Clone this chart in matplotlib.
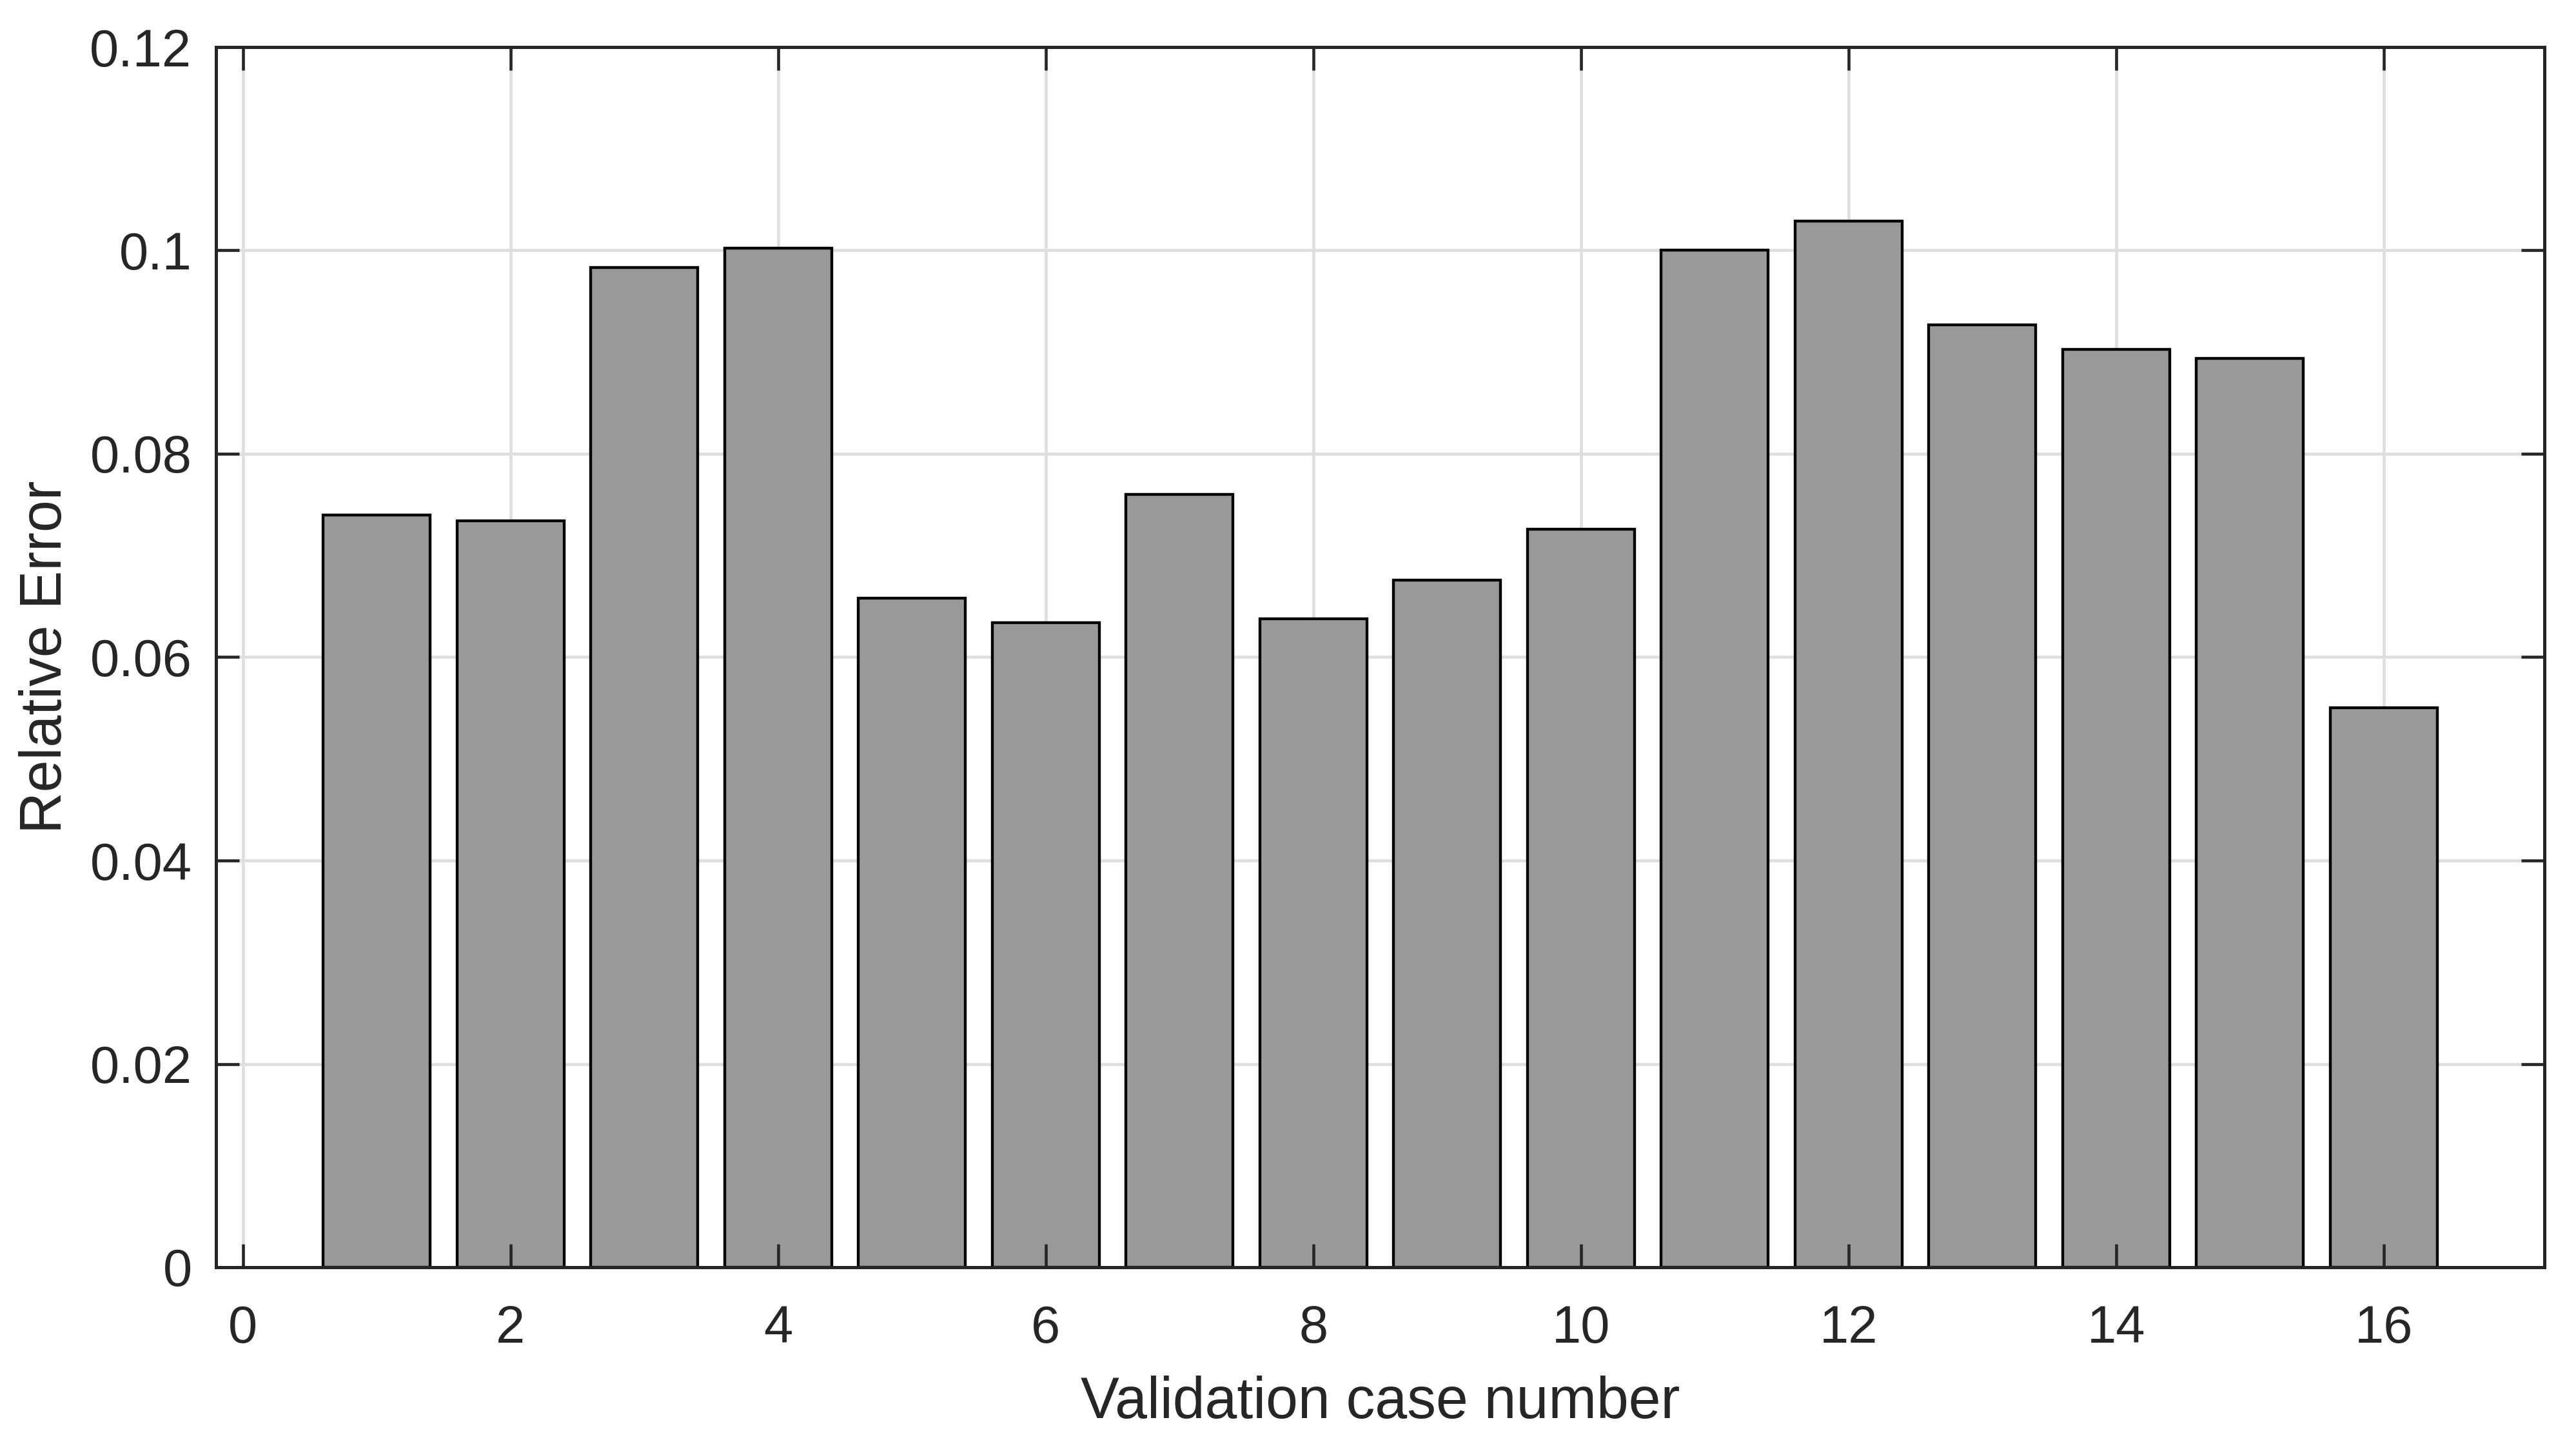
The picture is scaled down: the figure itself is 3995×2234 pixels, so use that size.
import matplotlib
matplotlib.use('Agg')
import matplotlib.pyplot as plt

# ---- data ----
cases = list(range(1, 17))
rel_error = [0.0740, 0.0734, 0.0983, 0.1002, 0.0658, 0.0634, 0.0760, 0.0638,
             0.0676, 0.0726, 0.1000, 0.1029, 0.0927, 0.0903, 0.0894, 0.0550]
xticks = [0, 2, 4, 6, 8, 10, 12, 14, 16]
xtick_labels = ['0', '2', '4', '6', '8', '10', '12', '14', '16']
yticks = [0, 0.02, 0.04, 0.06, 0.08, 0.10, 0.12]
ytick_labels = ['0', '0.02', '0.04', '0.06', '0.08', '0.1', '0.12']
xlabel = 'Validation case number'
ylabel = 'Relative Error'

plt.rcParams['font.family'] = ['Liberation Sans', 'DejaVu Sans']
txt = '#262626'

fig = plt.figure(figsize=(3995 / 300, 2234 / 300), dpi=300)
pos = [335 / 3995, 1 - 1966 / 2234, (3946 - 335) / 3995, (1966 - 73) / 2234]

# base axes: grid + bars
ax = fig.add_axes(pos)
ax.bar(cases, rel_error, width=0.8, color='#999999', edgecolor='black',
       linewidth=1.05, zorder=2)
ax.set_xlim(-0.2, 17.2)
ax.set_ylim(0, 0.12)
ax.set_xticks(xticks)
ax.set_yticks(yticks)
ax.grid(True, color='#dedede', linewidth=1.1)
ax.set_axisbelow(True)
ax.tick_params(length=0, labelbottom=False, labelleft=False)
for s in ax.spines.values():
    s.set_visible(False)

# overlay axes: ticks, spines, labels
ax2 = fig.add_axes(pos)
ax2.patch.set_visible(False)
ax2.set_xlim(-0.2, 17.2)
ax2.set_ylim(0, 0.12)
ax2.set_xticks(xticks)
ax2.set_xticklabels(xtick_labels)
ax2.set_yticks(yticks)
ax2.set_yticklabels(ytick_labels)
ax2.tick_params(direction='in', top=True, right=True, length=8.64, width=1.1,
                color=txt, labelcolor=txt, labelsize=19.5)
ax2.tick_params(axis='x', pad=14)
ax2.tick_params(axis='y', pad=9)
for s in ax2.spines.values():
    s.set_color(txt)
    s.set_linewidth(1.2)
ax2.set_xlabel(xlabel, fontsize=21.5, color=txt, labelpad=8)
ax2.set_ylabel(ylabel, fontsize=21.5, color=txt, labelpad=6)

fig.savefig('out.png', dpi=300)
